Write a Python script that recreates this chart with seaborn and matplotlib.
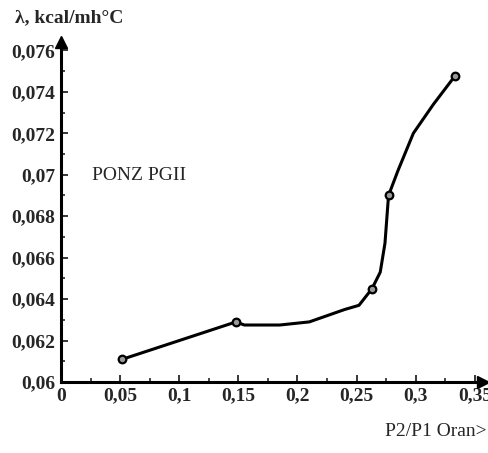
import matplotlib
matplotlib.use("Agg")
import matplotlib.pyplot as plt
import seaborn as sns
import pandas as pd
from matplotlib.ticker import FixedLocator, MultipleLocator

# Curve trace
curve_x = [0.052, 0.148, 0.155, 0.185, 0.21, 0.24, 0.252, 0.263, 0.270, 0.274, 0.277, 0.285, 0.298, 0.315, 0.333]
curve_y = [0.0611, 0.0629, 0.06275, 0.06275, 0.0629, 0.0635, 0.0637, 0.0645, 0.0653, 0.0667, 0.0690, 0.0702, 0.0720, 0.0734, 0.07475]
# Measured points (markers)
pts_x = [0.052, 0.148, 0.263, 0.277, 0.333]
pts_y = [0.0611, 0.0629, 0.0645, 0.0690, 0.07475]

xticks = [0, 0.05, 0.1, 0.15, 0.2, 0.25, 0.3, 0.35]
xtick_labels = ["0", "0,05", "0,1", "0,15", "0,2", "0,25", "0,3", "0,35"]
yticks = [0.06, 0.062, 0.064, 0.066, 0.068, 0.07, 0.072, 0.074, 0.076]
ytick_labels = ["0,06", "0,062", "0,064", "0,066", "0,068", "0,07", "0,072", "0,074", "0,076"]

sns.set_style("white")
plt.rcParams["font.family"] = ["Liberation Serif", "DejaVu Serif"]

fig = plt.figure(figsize=(4.88, 4.53), dpi=100)
ax = fig.add_axes([0.125, 0.1567, 0.865, 0.75])

df_curve = pd.DataFrame({"x": curve_x, "y": curve_y})
df_pts = pd.DataFrame({"x": pts_x, "y": pts_y})
sns.lineplot(data=df_curve, x="x", y="y", ax=ax, color="black", linewidth=2.2,
             sort=False, estimator=None)
sns.scatterplot(data=df_pts, x="x", y="y", ax=ax, marker="o", s=30,
                facecolor="#999999", edgecolor="black", linewidth=1.6, zorder=5)

ax.set_xlim(0, 0.357)
ax.set_ylim(0.06, 0.07639)
ax.set_xlabel("")
ax.set_ylabel("")

for s in ["top", "right"]:
    ax.spines[s].set_visible(False)
for s in ["left", "bottom"]:
    ax.spines[s].set_linewidth(2.2)
    ax.spines[s].set_color("black")

ax.xaxis.set_major_locator(FixedLocator(xticks))
ax.set_xticklabels(xtick_labels)
ax.yaxis.set_major_locator(FixedLocator(yticks))
ax.set_yticklabels(ytick_labels)
ax.xaxis.set_minor_locator(MultipleLocator(0.025))
ax.yaxis.set_minor_locator(MultipleLocator(0.001))
ax.tick_params(axis="both", which="major", direction="in", length=5, width=1.3,
               labelsize=14, pad=4, bottom=True, left=True)
ax.tick_params(axis="both", which="minor", direction="in", length=3, width=1.2,
               bottom=True, left=True)
for lab in ax.get_xticklabels() + ax.get_yticklabels():
    lab.set_fontweight("bold")

# axis arrows
ax.plot(1, 0, ">k", markersize=8, transform=ax.transAxes, clip_on=False)
ax.plot(0, 1, "^k", markersize=8, transform=ax.transAxes, clip_on=False)

fig.text(15 / 488, 1 - 18 / 453, "λ, kcal/mh°C", fontsize=14, fontweight="bold",
         ha="left", va="center")
ax.text(92 / 488, 1 - 176 / 453, "PONZ PGII", transform=fig.transFigure,
        fontsize=14, ha="left", va="center")
fig.text(385 / 488, 1 - 432 / 453, "P2/P1 Oran>", fontsize=14, ha="left", va="center")

fig.savefig("out.png", dpi=100)
